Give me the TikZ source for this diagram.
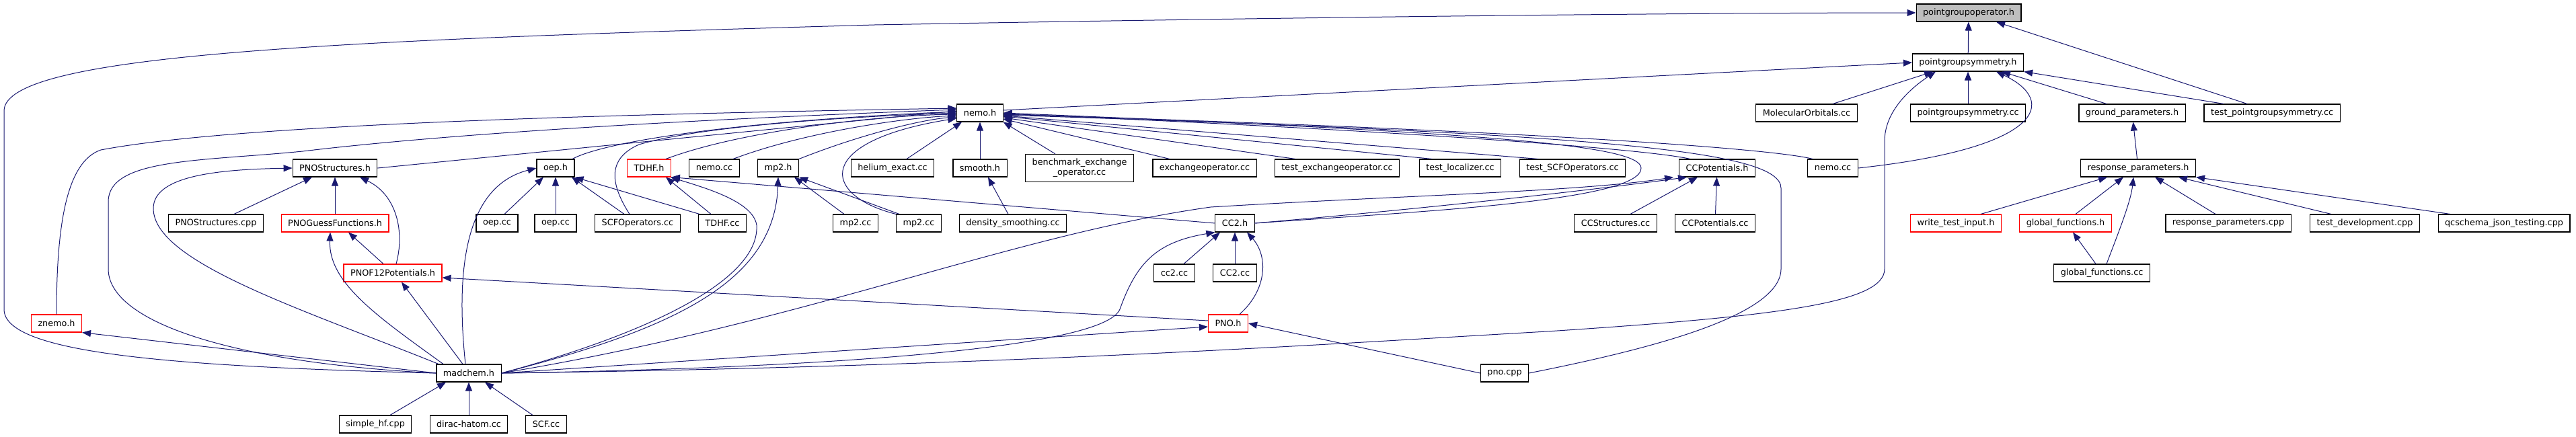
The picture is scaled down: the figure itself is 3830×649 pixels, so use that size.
\documentclass[tikz,border=0pt]{standalone}
\usepackage{fontspec}
\setmainfont{DejaVu Sans}
\usepackage{tikz}
\usetikzlibrary{arrows.meta}
\definecolor{edgeblue}{HTML}{191970}
\definecolor{rootgray}{HTML}{BFBFBF}
\definecolor{truncred}{HTML}{FF0000}
\tikzset{
  filenode/.style={draw=black,fill=white,line width=1.1pt,inner xsep=10pt,inner ysep=0pt,
    minimum height=26pt,font=\fontsize{12.8}{15}\selectfont},
  rednode/.style={filenode,draw=truncred},
  rootnode/.style={filenode,fill=rootgray},
  incl/.style={draw=edgeblue,line width=1pt,-{Triangle[length=13pt,width=10pt]}},
}

\begin{document}
\begin{tikzpicture}[x=1pt,y=-1pt]
    \useasboundingbox (0,0) rectangle (3830,649);

    \node[rootnode] (pgop) at (2927,19) {pointgroupoperator.h};
    \node[filenode] (pgsym) at (2926,93) {pointgroupsymmetry.h};

    \node[filenode] (nemoh) at (1457,168) {nemo.h};
    \node[filenode] (molorb) at (2686,168) {MolecularOrbitals.cc};
    \node[filenode] (pgsymcc) at (2926,168) {pointgroupsymmetry.cc};
    \node[filenode] (groundp) at (3170,168) {ground\_parameters.h};
    \node[filenode] (testpgs) at (3378,168) {test\_pointgroupsymmetry.cc};

    \node[filenode] (pnostructh) at (498,250) {PNOStructures.h};
    \node[filenode] (oeph) at (826,250) {oep.h};
    \node[rednode] (tdhfh) at (965,250) {TDHF.h};
    \node[filenode] (nemocca) at (1062,250) {nemo.cc};
    \node[filenode] (mp2h) at (1157,250) {mp2.h};
    \node[filenode] (helium) at (1327,250) {helium\_exact.cc};
    \node[filenode] (smoothh) at (1457,250) {smooth.h};
    \node[filenode,align=center,minimum height=41pt] (benchmark) at (1605,250) {benchmark\_exchange\\\_operator.cc};
    \node[filenode] (exchop) at (1791,250) {exchangeoperator.cc};
    \node[filenode] (testexch) at (1988,250) {test\_exchangeoperator.cc};
    \node[filenode] (testloc) at (2171,250) {test\_localizer.cc};
    \node[filenode] (testscf) at (2338,250) {test\_SCFOperators.cc};
    \node[filenode] (ccpoth) at (2553,250) {CCPotentials.h};
    \node[filenode] (nemoccb) at (2725,250) {nemo.cc};
    \node[filenode] (respparh) at (3179,250) {response\_parameters.h};

    \node[filenode] (pnostructcpp) at (321,332) {PNOStructures.cpp};
    \node[rednode] (pnoguess) at (498,332) {PNOGuessFunctions.h};
    \node[filenode] (oepcca) at (739,332) {oep.cc};
    \node[filenode] (oepccb) at (826,332) {oep.cc};
    \node[filenode] (scfop) at (948,332) {SCFOperators.cc};
    \node[filenode] (tdhfcc) at (1074,332) {TDHF.cc};
    \node[filenode] (mp2cca) at (1272,332) {mp2.cc};
    \node[filenode] (mp2ccb) at (1366,332) {mp2.cc};
    \node[filenode] (densmooth) at (1506,332) {density\_smoothing.cc};
    \node[filenode] (cc2h) at (1836,332) {CC2.h};
    \node[filenode] (ccstruct) at (2402,332) {CCStructures.cc};
    \node[filenode] (ccpotcc) at (2550,332) {CCPotentials.cc};
    \node[rednode] (writetest) at (2908,332) {write\_test\_input.h};
    \node[rednode] (globfunh) at (3071,332) {global\_functions.h};
    \node[filenode] (respparcpp) at (3313,332) {response\_parameters.cpp};
    \node[filenode] (testdev) at (3516,332) {test\_development.cpp};
    \node[filenode] (qcschema) at (3723,332) {qcschema\_json\_testing.cpp};

    \node[rednode] (pnof12) at (584,406) {PNOF12Potentials.h};
    \node[filenode] (cc2cc) at (1746,406) {cc2.cc};
    \node[filenode] (CC2cc) at (1836,406) {CC2.cc};
    \node[filenode] (globfuncc) at (3125,406) {global\_functions.cc};

    \node[rednode] (znemo) at (84,481) {znemo.h};
    \node[rednode] (pnoh) at (1826,481) {PNO.h};

    \node[filenode] (madchem) at (697,555) {madchem.h};
    \node[filenode] (pnocpp) at (2237,555) {pno.cpp};

    \node[filenode] (simplehf) at (558,631) {simple\_hf.cpp};
    \node[filenode] (dirac) at (697,631) {dirac-hatom.cc};
    \node[filenode] (scfcc) at (812,631) {SCF.cc};

    % pointgroupoperator.h
    \draw[incl] (pgsym) -- (pgop);
    \draw[incl] ([xshift=-37]testpgs.north) -- ([xshift=41]pgop.south);
    \draw[incl] (madchem.west) .. controls (250,545) and (6,525) .. (6,460) -- (6,165)
      .. controls (6,80) and (500,60) .. (1300,37) .. controls (1900,26) and (2500,19) .. (pgop.west);

    % pointgroupsymmetry.h
    \draw[incl] ([yshift=4]nemoh.east) -- (pgsym.west);
    \draw[incl] ([xshift=39]molorb.north) -- ([xshift=-52]pgsym.south);
    \draw[incl] (pgsymcc) -- (pgsym);
    \draw[incl] ([xshift=-38]groundp.north) -- ([xshift=50]pgsym.south);
    \draw[incl] ([xshift=-72]testpgs.north) -- (pgsym.south east);
    \draw[incl] (nemoccb.east) .. controls (3040,220) and (3060,150) .. ([xshift=42]pgsym.south);
    \draw[incl] (madchem.east) .. controls (1500,545) and (2000,510) .. (2300,493)
      .. controls (2650,470) and (2802,450) .. (2802,400) -- (2802,210)
      .. controls (2802,160) and (2850,125) .. ([xshift=-48]pgsym.south);

    % nemo.h, from the right
    \draw[incl] (pnocpp.east) .. controls (2450,520) and (2648,470) .. (2648,400) -- (2648,280)
      .. controls (2648,225) and (2400,200) .. ([yshift=-3]nemoh.east);
    \draw[incl] ([xshift=-30]nemoccb.north) .. controls (2640,222) and (2300,195) .. ([yshift=-2]nemoh.east);
    \draw[incl] ([xshift=-40]ccpoth.north) .. controls (2450,222) and (2100,195) .. ([yshift=-1]nemoh.east);
    \draw[incl] (cc2h.east) .. controls (2100,315) and (2440,300) .. (2440,250)
      .. controls (2440,215) and (2200,197) .. (nemoh.east);
    \draw[incl] ([xshift=-51]testscf.north) -- ([yshift=-4]nemoh.east);
    \draw[incl] ([xshift=-42]testloc.north) -- ([yshift=-5]nemoh.east);
    \draw[incl] ([xshift=-62]testexch.north) -- ([yshift=-7]nemoh.east);
    \draw[incl] ([xshift=-52]exchop.north) -- ([yshift=-9]nemoh.east);
    \draw[incl] ([xshift=-36]benchmark.north) -- (nemoh.south east);

    % nemo.h, from below and the left
    \draw[incl] ([xshift=21]helium.north) -- ([xshift=-27]nemoh.south);
    \draw[incl] (smoothh) -- (nemoh);
    \draw[incl] (mp2ccb.north west) .. controls (1220,290) and (1210,210) .. ([yshift=-8]nemoh.west);
    \draw[incl] (mp2h.north east) .. controls (1280,200) and (1370,178) .. ([yshift=-6]nemoh.west);
    \draw[incl] ([xshift=28]nemocca.north) .. controls (1200,195) and (1350,175) .. ([yshift=-4]nemoh.west);
    \draw[incl] ([xshift=25]tdhfh.north) .. controls (1100,195) and (1300,172) .. ([yshift=-2]nemoh.west);
    \draw[incl] ([xshift=-12]scfop.north) .. controls (905,270) and (905,235) .. (950,215)
      .. controls (1050,185) and (1300,172) .. (nemoh.west);
    \draw[incl] ([xshift=25]oeph.north) .. controls (900,210) and (1100,180) .. ([yshift=2]nemoh.west);
    \draw[incl] (pnostructh.east) -- ([yshift=3]nemoh.west);
    \draw[incl] (madchem.west) .. controls (350,540) and (161,480) .. (161,400) -- (161,300)
      .. controls (161,235) and (300,240) .. (450,225) .. controls (700,195) and (1100,175) .. ([yshift=5]nemoh.west);
    \draw[incl] (znemo.north) .. controls (84,330) and (100,240) .. (150,223)
      .. controls (350,185) and (900,170) .. ([yshift=7]nemoh.west);

    % PNOStructures.h, PNOGuessFunctions.h, PNOF12Potentials.h
    \draw[incl] ([xshift=-45]madchem.north) .. controls (450,460) and (228,390) .. (228,310)
      .. controls (228,260) and (330,252) .. (pnostructh.west);
    \draw[incl] ([xshift=27]pnostructcpp.north) -- ([xshift=-34]pnostructh.south);
    \draw[incl] (pnoguess) -- (pnostructh);
    \draw[incl] ([xshift=5]pnof12.north) .. controls (602,345) and (590,290) .. ([xshift=37]pnostructh.south);
    \draw[incl] ([xshift=-38]madchem.north) .. controls (560,470) and (488,420) .. ([xshift=-7]pnoguess.south);
    \draw[incl] ([xshift=-14]pnof12.north) -- ([xshift=20]pnoguess.south);
    \draw[incl] ([xshift=-9]madchem.north) -- ([xshift=13]pnof12.south);
    \draw[incl] ([yshift=4]pnoh.west) -- ([yshift=-7]pnof12.east);
    \draw[incl] (madchem.west) -- (znemo.south east);

    % oep.h, TDHF.h, mp2.h, smooth.h
    \draw[incl] ([xshift=-5]madchem.north) .. controls (675,380) and (700,275) .. (oeph.west);
    \draw[incl] ([xshift=11]oepcca.north) -- ([xshift=-18]oeph.south);
    \draw[incl] (oepccb) -- (oeph);
    \draw[incl] ([xshift=-20]scfop.north) -- ([xshift=24]oeph.south);
    \draw[incl] ([xshift=-34]tdhfcc.north) -- (oeph.south east);
    \draw[incl] ([xshift=-17]tdhfcc.north) -- ([xshift=25]tdhfh.south);
    \draw[incl] (madchem.east) .. controls (950,500) and (1130,420) .. (1125,335)
      .. controls (1120,300) and (1050,280) .. ([xshift=32]tdhfh.south);
    \draw[incl] (cc2h.west) -- (tdhfh.south east);
    \draw[incl] (madchem.east) .. controls (1000,490) and (1152,420) .. (mp2h.south);
    \draw[incl] ([xshift=-17]mp2cca.north) -- ([xshift=24]mp2h.south);
    \draw[incl] ([xshift=-29]mp2ccb.north) -- (mp2h.south east);
    \draw[incl] ([xshift=-7]densmooth.north) -- ([xshift=12]smoothh.south);

    % CCPotentials.h, CC2.h, PNO.h
    \draw[incl] (madchem.east) .. controls (1200,480) and (1500,350) .. (1800,308)
      .. controls (2100,290) and (2350,285) .. ([xshift=-65]ccpoth.south);
    \draw[incl] (cc2h.east) .. controls (2100,312) and (2350,285) .. ([xshift=-45]ccpoth.south);
    \draw[incl] ([xshift=22]ccstruct.north) -- ([xshift=-29]ccpoth.south);
    \draw[incl] (ccpotcc) -- (ccpoth);
    \draw[incl] (madchem.east) .. controls (1200,548) and (1640,520) .. (1665,460)
      .. controls (1690,390) and (1720,360) .. (cc2h.south west);
    \draw[incl] ([xshift=14]cc2cc.north) -- ([xshift=-22]cc2h.south);
    \draw[incl] (CC2cc) -- (cc2h);
    \draw[incl] ([xshift=17]pnoh.north) .. controls (1885,430) and (1885,380) .. ([xshift=18]cc2h.south);
    \draw[incl] (madchem.east) -- ([yshift=-5]pnoh.west);
    \draw[incl] (pnocpp.west) -- (pnoh.east);

    % ground_parameters.h, response_parameters.h
    \draw[incl] (respparh) -- (groundp);
    \draw[incl] ([xshift=37]writetest.north) -- ([xshift=-46]respparh.south);
    \draw[incl] ([xshift=15]globfunh.north) -- ([xshift=-22]respparh.south);
    \draw[incl] ([xshift=7]globfuncc.north) .. controls (3150,345) and (3168,300) .. ([xshift=-7]respparh.south);
    \draw[incl] ([xshift=-19]respparcpp.north) -- ([xshift=25]respparh.south);
    \draw[incl] ([xshift=-50]testdev.north) -- ([xshift=60]respparh.south);
    \draw[incl] ([xshift=-80]qcschema.north) -- (respparh.south east);
    \draw[incl] ([xshift=-9]globfuncc.north) -- ([xshift=11]globfunh.south);

    % madchem.h
    \draw[incl] ([xshift=22]simplehf.north) -- ([xshift=-34]madchem.south);
    \draw[incl] (dirac) -- (madchem);
    \draw[incl] ([xshift=-20]scfcc.north) -- ([xshift=24]madchem.south);
  \end{tikzpicture}
\end{document}
